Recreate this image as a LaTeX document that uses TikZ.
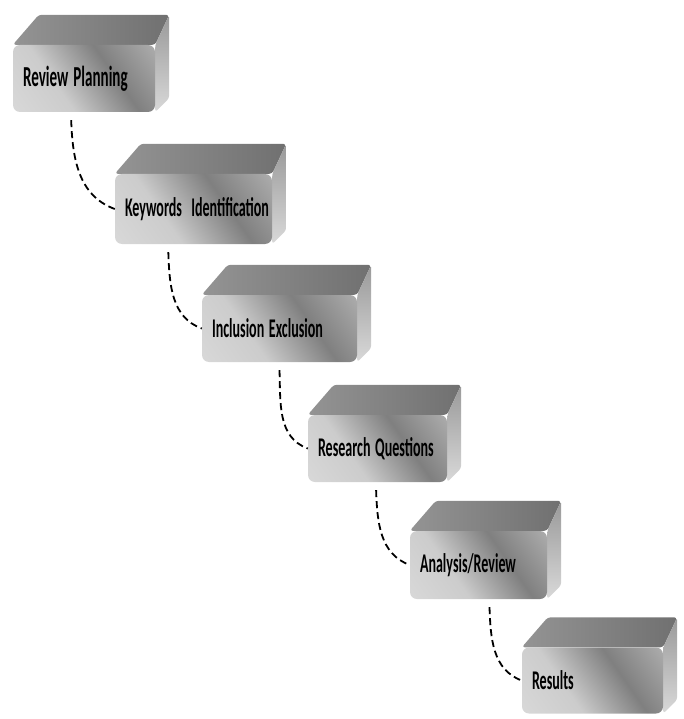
\documentclass[tikz,border=0pt]{standalone}
\usepackage{fontspec}
\newfontfamily\blockfont{Carlito}
\usetikzlibrary{calc,backgrounds}

% light-dark-light band across the front of each block
\pgfdeclarehorizontalshading{frontshade}{100bp}{color(0bp)=(black!12); color(38bp)=(black!20); color(62bp)=(black!50); color(80bp)=(black!36); color(100bp)=(black!20)}

% narrow lettering on the blocks
\newcommand{\squeeze}[1]{\scalebox{0.52}[1]{#1}}

\def\ux{1pt}
\def\uy{-1pt}

\begin{document}
\begin{tikzpicture}[x=\ux,y=\uy, font=\blockfont\fontsize{27}{29}\selectfont\bfseries]
		\tikzset{
			front/.style={rectangle, rounded corners=7pt, shading=frontshade, shading angle=35,
				minimum height=67pt, inner xsep=10pt, inner ysep=0pt, align=left},
			topface/.style={left color=black!42, right color=black!56, rounded corners=3pt},
			sideface/.style={top color=black!40, bottom color=black!15, rounded corners=3pt},
			link/.style={dashed, dash pattern=on 7pt off 4pt, line width=1.8pt},
		}
		\useasboundingbox (0,0) rectangle (683,719);

		% front faces of the steps
		\node[front, text width=122pt, font=\blockfont\fontsize{29}{31}\selectfont\bfseries] (plan) at (84,78.5) {\squeeze{Review Planning}};
		\node[front, text width=137pt, minimum height=70pt] (keys) at (193.5,209) {\squeeze{Keywords~ Identification}};
		\node[front, text width=135pt] (incl) at (279.5,328.5) {\squeeze{Inclusion Exclusion}};
		\node[front, text width=119pt] (rq) at (377.5,448.5) {\squeeze{Research Questions}};
		\node[front, text width=117pt, minimum height=68pt] (anal) at (478.5,565) {\squeeze{Analysis/Review}};
		\node[front, text width=121pt, minimum height=66pt] (res) at (592.5,680.5) {\squeeze{Results}};

		% top and right side of every block
		\begin{scope}[on background layer]
		\foreach \n in {plan,keys,incl,rq,anal,res}{
			\shade[topface] (\n.north west) -- ++(26,-30) -- ($(\n.north east)+(14,-30)$)
				-- (\n.north east) -- cycle;
			\shade[sideface] (\n.north east) -- ++(14,-30) -- ($(\n.south east)+(14,-14)$)
				-- (\n.south east) -- cycle;
		}
		\end{scope}

		% dashed links from one step down to the next
		\foreach \a/\b/\f in {plan/keys/0.41, keys/incl/0.34, incl/rq/0.5, rq/anal/0.49, anal/res/0.58}{
			\draw[link] ($(\a.south west)!\f!(\a.south east)+(0,8)$) to[out=-88,in=160] (\b.west);
		}
\end{tikzpicture}
\end{document}
